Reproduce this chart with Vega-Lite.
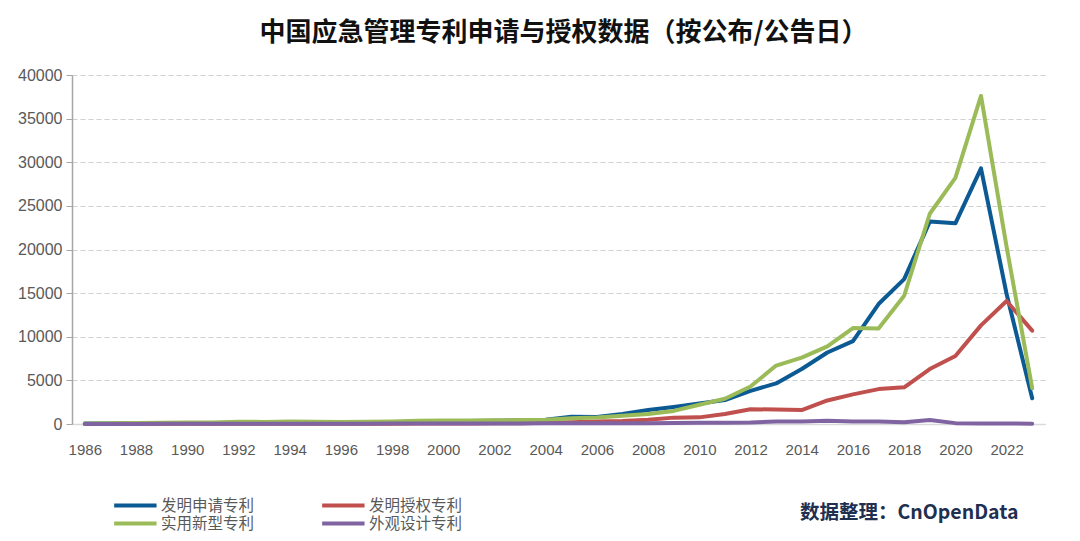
{
  "$schema": "https://vega.github.io/schema/vega-lite/v6.json",
  "autosize": {"type": "none"},
  "width": 973,
  "height": 349,
  "padding": {"left": 72, "top": 75, "right": 35, "bottom": 117},
  "background": "white",
  "title": {
    "text": "中国应急管理专利申请与授权数据（按公布/公告日）",
    "font": "Noto Sans CJK SC",
    "fontSize": 26,
    "fontWeight": "bold",
    "color": "#111111",
    "anchor": "middle",
    "offset": 21,
    "dx": 5
  },
  "config": {
    "view": {"stroke": null},
    "font": "Liberation Sans"
  },
  "data": {
    "values": [
      {"year": 1986, "s": "发明申请专利", "v": 50}, {"year": 1986, "s": "发明授权专利", "v": 10}, {"year": 1986, "s": "实用新型专利", "v": 60}, {"year": 1986, "s": "外观设计专利", "v": 5},
      {"year": 1987, "s": "发明申请专利", "v": 60}, {"year": 1987, "s": "发明授权专利", "v": 10}, {"year": 1987, "s": "实用新型专利", "v": 80}, {"year": 1987, "s": "外观设计专利", "v": 10},
      {"year": 1988, "s": "发明申请专利", "v": 80}, {"year": 1988, "s": "发明授权专利", "v": 15}, {"year": 1988, "s": "实用新型专利", "v": 120}, {"year": 1988, "s": "外观设计专利", "v": 10},
      {"year": 1989, "s": "发明申请专利", "v": 100}, {"year": 1989, "s": "发明授权专利", "v": 20}, {"year": 1989, "s": "实用新型专利", "v": 150}, {"year": 1989, "s": "外观设计专利", "v": 15},
      {"year": 1990, "s": "发明申请专利", "v": 120}, {"year": 1990, "s": "发明授权专利", "v": 20}, {"year": 1990, "s": "实用新型专利", "v": 170}, {"year": 1990, "s": "外观设计专利", "v": 20},
      {"year": 1991, "s": "发明申请专利", "v": 100}, {"year": 1991, "s": "发明授权专利", "v": 20}, {"year": 1991, "s": "实用新型专利", "v": 160}, {"year": 1991, "s": "外观设计专利", "v": 20},
      {"year": 1992, "s": "发明申请专利", "v": 130}, {"year": 1992, "s": "发明授权专利", "v": 30}, {"year": 1992, "s": "实用新型专利", "v": 260}, {"year": 1992, "s": "外观设计专利", "v": 30},
      {"year": 1993, "s": "发明申请专利", "v": 150}, {"year": 1993, "s": "发明授权专利", "v": 30}, {"year": 1993, "s": "实用新型专利", "v": 240}, {"year": 1993, "s": "外观设计专利", "v": 30},
      {"year": 1994, "s": "发明申请专利", "v": 150}, {"year": 1994, "s": "发明授权专利", "v": 30}, {"year": 1994, "s": "实用新型专利", "v": 290}, {"year": 1994, "s": "外观设计专利", "v": 40},
      {"year": 1995, "s": "发明申请专利", "v": 150}, {"year": 1995, "s": "发明授权专利", "v": 30}, {"year": 1995, "s": "实用新型专利", "v": 260}, {"year": 1995, "s": "外观设计专利", "v": 40},
      {"year": 1996, "s": "发明申请专利", "v": 150}, {"year": 1996, "s": "发明授权专利", "v": 30}, {"year": 1996, "s": "实用新型专利", "v": 230}, {"year": 1996, "s": "外观设计专利", "v": 40},
      {"year": 1997, "s": "发明申请专利", "v": 160}, {"year": 1997, "s": "发明授权专利", "v": 30}, {"year": 1997, "s": "实用新型专利", "v": 250}, {"year": 1997, "s": "外观设计专利", "v": 40},
      {"year": 1998, "s": "发明申请专利", "v": 200}, {"year": 1998, "s": "发明授权专利", "v": 40}, {"year": 1998, "s": "实用新型专利", "v": 290}, {"year": 1998, "s": "外观设计专利", "v": 50},
      {"year": 1999, "s": "发明申请专利", "v": 250}, {"year": 1999, "s": "发明授权专利", "v": 50}, {"year": 1999, "s": "实用新型专利", "v": 380}, {"year": 1999, "s": "外观设计专利", "v": 50},
      {"year": 2000, "s": "发明申请专利", "v": 300}, {"year": 2000, "s": "发明授权专利", "v": 60}, {"year": 2000, "s": "实用新型专利", "v": 400}, {"year": 2000, "s": "外观设计专利", "v": 60},
      {"year": 2001, "s": "发明申请专利", "v": 330}, {"year": 2001, "s": "发明授权专利", "v": 70}, {"year": 2001, "s": "实用新型专利", "v": 400}, {"year": 2001, "s": "外观设计专利", "v": 60},
      {"year": 2002, "s": "发明申请专利", "v": 380}, {"year": 2002, "s": "发明授权专利", "v": 80}, {"year": 2002, "s": "实用新型专利", "v": 420}, {"year": 2002, "s": "外观设计专利", "v": 60},
      {"year": 2003, "s": "发明申请专利", "v": 420}, {"year": 2003, "s": "发明授权专利", "v": 100}, {"year": 2003, "s": "实用新型专利", "v": 450}, {"year": 2003, "s": "外观设计专利", "v": 70},
      {"year": 2004, "s": "发明申请专利", "v": 500}, {"year": 2004, "s": "发明授权专利", "v": 150}, {"year": 2004, "s": "实用新型专利", "v": 500}, {"year": 2004, "s": "外观设计专利", "v": 80},
      {"year": 2005, "s": "发明申请专利", "v": 820}, {"year": 2005, "s": "发明授权专利", "v": 200}, {"year": 2005, "s": "实用新型专利", "v": 650}, {"year": 2005, "s": "外观设计专利", "v": 80},
      {"year": 2006, "s": "发明申请专利", "v": 800}, {"year": 2006, "s": "发明授权专利", "v": 300}, {"year": 2006, "s": "实用新型专利", "v": 750}, {"year": 2006, "s": "外观设计专利", "v": 100},
      {"year": 2007, "s": "发明申请专利", "v": 1150}, {"year": 2007, "s": "发明授权专利", "v": 350}, {"year": 2007, "s": "实用新型专利", "v": 950}, {"year": 2007, "s": "外观设计专利", "v": 100},
      {"year": 2008, "s": "发明申请专利", "v": 1600}, {"year": 2008, "s": "发明授权专利", "v": 480}, {"year": 2008, "s": "实用新型专利", "v": 1150}, {"year": 2008, "s": "外观设计专利", "v": 100},
      {"year": 2009, "s": "发明申请专利", "v": 1950}, {"year": 2009, "s": "发明授权专利", "v": 730}, {"year": 2009, "s": "实用新型专利", "v": 1500}, {"year": 2009, "s": "外观设计专利", "v": 120},
      {"year": 2010, "s": "发明申请专利", "v": 2350}, {"year": 2010, "s": "发明授权专利", "v": 760}, {"year": 2010, "s": "实用新型专利", "v": 2200}, {"year": 2010, "s": "外观设计专利", "v": 150},
      {"year": 2011, "s": "发明申请专利", "v": 2750}, {"year": 2011, "s": "发明授权专利", "v": 1150}, {"year": 2011, "s": "实用新型专利", "v": 2900}, {"year": 2011, "s": "外观设计专利", "v": 150},
      {"year": 2012, "s": "发明申请专利", "v": 3800}, {"year": 2012, "s": "发明授权专利", "v": 1700}, {"year": 2012, "s": "实用新型专利", "v": 4300}, {"year": 2012, "s": "外观设计专利", "v": 180},
      {"year": 2013, "s": "发明申请专利", "v": 4650}, {"year": 2013, "s": "发明授权专利", "v": 1650}, {"year": 2013, "s": "实用新型专利", "v": 6700}, {"year": 2013, "s": "外观设计专利", "v": 300},
      {"year": 2014, "s": "发明申请专利", "v": 6300}, {"year": 2014, "s": "发明授权专利", "v": 1600}, {"year": 2014, "s": "实用新型专利", "v": 7600}, {"year": 2014, "s": "外观设计专利", "v": 300},
      {"year": 2015, "s": "发明申请专利", "v": 8200}, {"year": 2015, "s": "发明授权专利", "v": 2700}, {"year": 2015, "s": "实用新型专利", "v": 8900}, {"year": 2015, "s": "外观设计专利", "v": 380},
      {"year": 2016, "s": "发明申请专利", "v": 9500}, {"year": 2016, "s": "发明授权专利", "v": 3400}, {"year": 2016, "s": "实用新型专利", "v": 11000}, {"year": 2016, "s": "外观设计专利", "v": 300},
      {"year": 2017, "s": "发明申请专利", "v": 13750}, {"year": 2017, "s": "发明授权专利", "v": 4000}, {"year": 2017, "s": "实用新型专利", "v": 10950}, {"year": 2017, "s": "外观设计专利", "v": 300},
      {"year": 2018, "s": "发明申请专利", "v": 16600}, {"year": 2018, "s": "发明授权专利", "v": 4200}, {"year": 2018, "s": "实用新型专利", "v": 14700}, {"year": 2018, "s": "外观设计专利", "v": 200},
      {"year": 2019, "s": "发明申请专利", "v": 23200}, {"year": 2019, "s": "发明授权专利", "v": 6300}, {"year": 2019, "s": "实用新型专利", "v": 24100}, {"year": 2019, "s": "外观设计专利", "v": 460},
      {"year": 2020, "s": "发明申请专利", "v": 23000}, {"year": 2020, "s": "发明授权专利", "v": 7800}, {"year": 2020, "s": "实用新型专利", "v": 28200}, {"year": 2020, "s": "外观设计专利", "v": 100},
      {"year": 2021, "s": "发明申请专利", "v": 29300}, {"year": 2021, "s": "发明授权专利", "v": 11300}, {"year": 2021, "s": "实用新型专利", "v": 37600}, {"year": 2021, "s": "外观设计专利", "v": 60},
      {"year": 2022, "s": "发明申请专利", "v": 14900}, {"year": 2022, "s": "发明授权专利", "v": 14100}, {"year": 2022, "s": "实用新型专利", "v": 20300}, {"year": 2022, "s": "外观设计专利", "v": 50},
      {"year": 2023, "s": "发明申请专利", "v": 2950}, {"year": 2023, "s": "发明授权专利", "v": 10700}, {"year": 2023, "s": "实用新型专利", "v": 4100}, {"year": 2023, "s": "外观设计专利", "v": 40}
    ]
  },
  "mark": {"type": "line", "strokeWidth": 4, "strokeJoin": "round", "strokeCap": "round"},
  "encoding": {
    "x": {
      "field": "year",
      "type": "quantitative",
      "scale": {"domain": [1985.5, 2023.5], "nice": false, "zero": false},
      "axis": {
        "values": [1986, 1988, 1990, 1992, 1994, 1996, 1998, 2000, 2002, 2004, 2006, 2008, 2010, 2012, 2014, 2016, 2018, 2020, 2022],
        "format": "d",
        "grid": false,
        "ticks": false,
        "domainColor": "#d9d9d9",
        "domainWidth": 1.5,
        "labelFont": "Liberation Sans",
        "labelFontSize": 15,
        "labelColor": "#595959",
        "labelPadding": 18,
        "title": "数据整理：CnOpenData",
        "titleFont": "Noto Sans CJK SC",
        "titleFontSize": 19.5,
        "titleFontWeight": "bold",
        "titleColor": "#1f2f4f",
        "titleAnchor": "end",
        "titleAlign": "right",
        "titleBaseline": "middle",
        "titleX": 946,
        "titleY": 88
      }
    },
    "y": {
      "field": "v",
      "type": "quantitative",
      "scale": {"domain": [0, 40000], "nice": false},
      "axis": {
        "values": [0, 5000, 10000, 15000, 20000, 25000, 30000, 35000, 40000],
        "format": "d",
        "title": null,
        "grid": true,
        "gridColor": "#d0d0d0",
        "gridDash": [5, 3],
        "gridWidth": 1.2,
        "domainColor": "#a6a6a6",
        "domainWidth": 1.5,
        "tickColor": "#a6a6a6",
        "tickSize": 6,
        "labelFont": "Liberation Sans",
        "labelFontSize": 16,
        "labelColor": "#595959",
        "labelPadding": 4
      }
    },
    "color": {
      "field": "s",
      "type": "nominal",
      "scale": {
        "domain": ["发明申请专利", "发明授权专利", "实用新型专利", "外观设计专利"],
        "range": ["#0b5a94", "#c0504d", "#9bbb59", "#8064a2"]
      },
      "legend": {
        "title": null,
        "orient": "none",
        "legendX": 68,
        "legendY": 421,
        "direction": "horizontal",
        "columns": 2,
        "columnPadding": 59,
        "rowPadding": 0,
        "symbolType": "M-5,0H1",
        "symbolSize": 200,
        "symbolStrokeWidth": 4,
        "symbolFillColor": "transparent",
        "labelFont": "Noto Sans CJK SC",
        "labelFontSize": 15.5,
        "labelColor": "#595959",
        "labelOffset": 2,
        "labelLimit": 200
      }
    },
    "order": {"field": "s"}
  }
}
